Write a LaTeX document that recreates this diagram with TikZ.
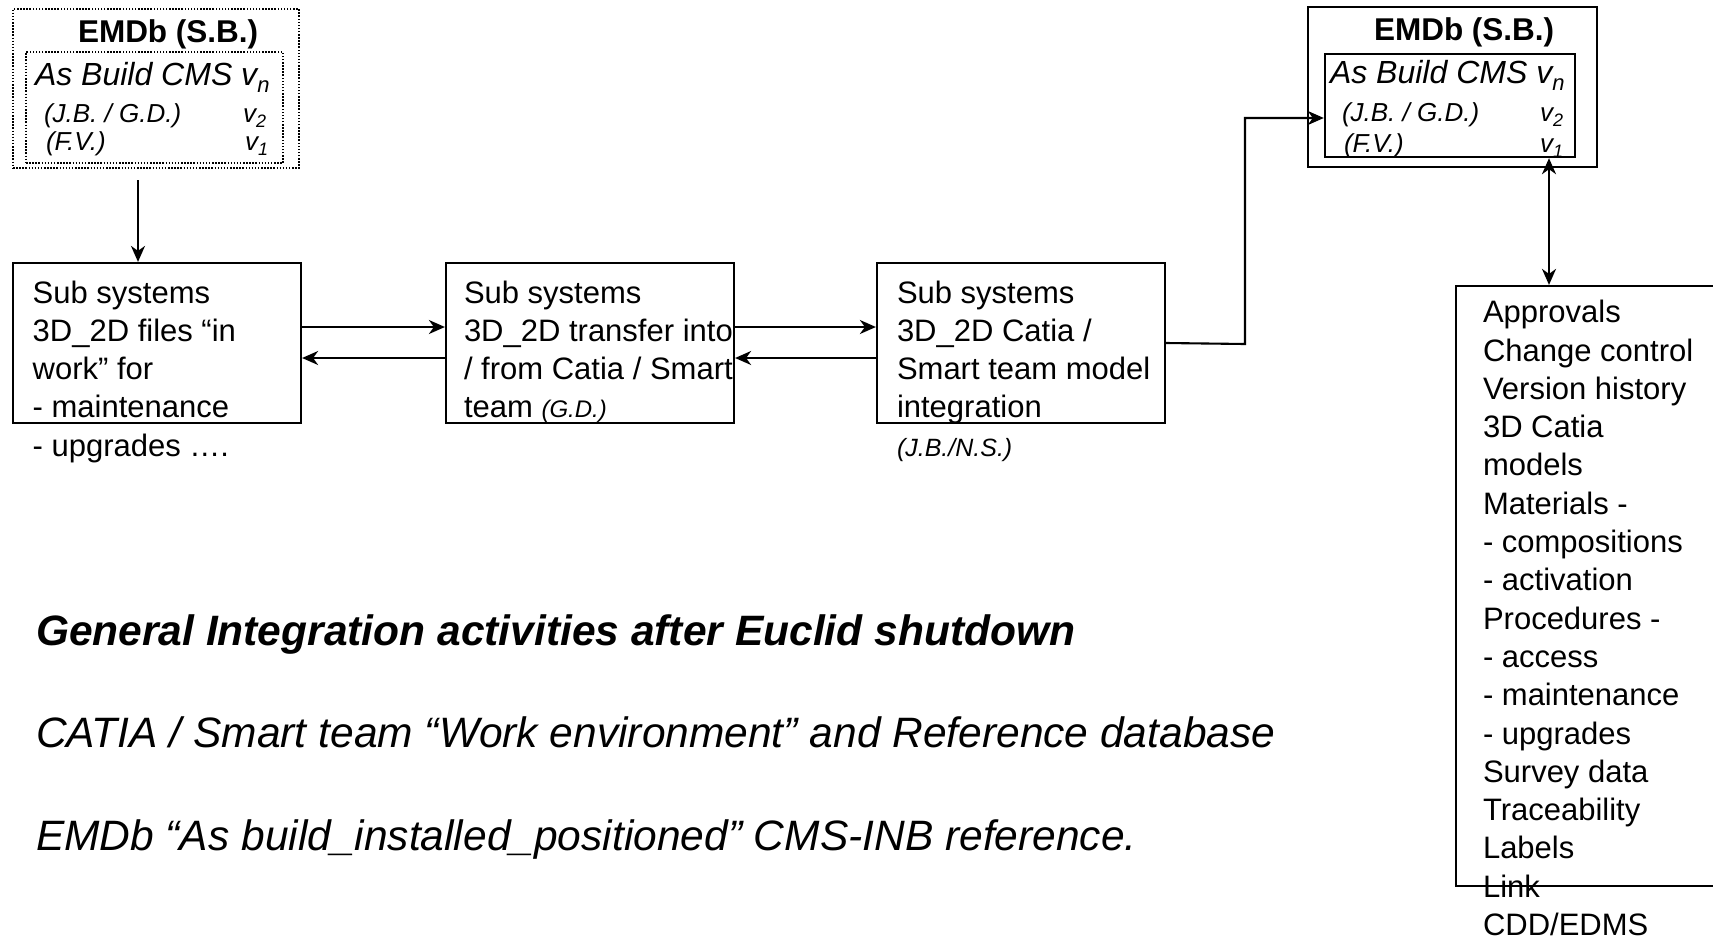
\documentclass[tikz,border=0pt]{standalone}
\usepackage{fontspec}
\setmainfont{Liberation Sans}
\usetikzlibrary{arrows.meta}
\newcommand{\vsb}[2]{v\raisebox{-0.22em}{\fontsize{#2}{#2}\selectfont #1}}
\begin{document}
\begin{tikzpicture}[x=1pt,y=-1pt,
  box/.style={draw, line width=2.2pt, minimum width=288pt, minimum height=160pt, inner sep=0pt},
  solidbox/.style={draw, line width=2.4pt, inner sep=0pt},
  dotbox/.style={draw, line width=2pt, dash pattern=on 1.5pt off 1.6pt, inner sep=0pt},
  txt/.style={anchor=base west, inner sep=0pt, outer sep=0pt},
  main/.style={font=\fontsize{31}{38.3}\selectfont},
  arr/.style={line width=2.1pt, -{Stealth[length=16pt,width=14pt,inset=5pt]}},
  arrb/.style={line width=2.1pt, {Stealth[length=16pt,width=14pt,inset=5pt]}-{Stealth[length=16pt,width=14pt,inset=5pt]}}]
\useasboundingbox (0,0) rectangle (1713,940);
\fill[white] (0,0) rectangle (1713,940);
\clip (0,0) rectangle (1713,940);

% top-left EMDb box (dotted)
\node[dotbox, minimum width=286pt, minimum height=159pt] (tl) at (156,88.5) {};
\node[dotbox, minimum width=257pt, minimum height=111pt] (tli) at (154.5,107.5) {};
\node[txt, font=\fontsize{31.5}{36}\selectfont\bfseries] (tlh) at (78,42) {EMDb (S.B.)};
\node[txt, font=\fontsize{32}{36}\selectfont\itshape] (tla) at (35,85) {As Build CMS \vsb{n}{22}};
\node[txt, font=\fontsize{26}{30}\selectfont\itshape] (tlb) at (44,122) {(J.B. / G.D.)};
\node[txt, font=\fontsize{26}{30}\selectfont\itshape] (tlb2) at (243,122) {\vsb{2}{18}};
\node[txt, font=\fontsize{26}{30}\selectfont\itshape] (tlc) at (46,150) {(F.V.)};
\node[txt, font=\fontsize{26}{30}\selectfont\itshape] (tlc1) at (245,150) {\vsb{1}{18}};

% top-right EMDb box (solid)
\node[solidbox, minimum width=289pt, minimum height=160pt] (tr) at (1452.5,87) {};
\node[solidbox, minimum width=250pt, minimum height=103pt] (tri) at (1450,105.5) {};
\node[txt, font=\fontsize{31.5}{36}\selectfont\bfseries] (trh) at (1374,40) {EMDb (S.B.)};
\node[txt, font=\fontsize{32}{36}\selectfont\itshape] (tra) at (1330,83) {As Build CMS \vsb{n}{22}};
\node[txt, font=\fontsize{26}{30}\selectfont\itshape] (trb) at (1342,121) {(J.B. / G.D.)};
\node[txt, font=\fontsize{26}{30}\selectfont\itshape] (trb2) at (1540,121) {\vsb{2}{18}};
\node[txt, font=\fontsize{26}{30}\selectfont\itshape] (trc) at (1344,152) {(F.V.)};
\node[txt, font=\fontsize{26}{30}\selectfont\itshape] (trc1) at (1540,152) {\vsb{1}{18}};

% three sub-system boxes
\node[box] (b1) at (157,343) {};
\node[box] (b2) at (590,343) {};
\node[box] (b3) at (1021,343) {};

\node[txt, main] (b1t) at (32.7,303) {\begin{tabular}[t]{@{}l@{}}Sub systems\\3D\_2D files “in\\work” for\\- maintenance\\- upgrades ….\end{tabular}};
\node[txt, main] (b2t) at (464,303) {\begin{tabular}[t]{@{}l@{}}Sub systems\\3D\_2D transfer into\\/ from Catia / Smart\\team {\itshape\fontsize{24}{28}\selectfont (G.D.)}\end{tabular}};
\node[txt, main] (b3t) at (897,303) {\begin{tabular}[t]{@{}l@{}}Sub systems\\3D\_2D Catia /\\Smart team model\\integration\\{\itshape\fontsize{25}{28}\selectfont (J.B./N.S.)}\end{tabular}};

% approvals box
\node[draw, line width=2.2pt, minimum width=304pt, minimum height=600pt, inner sep=0pt] (ap) at (1608,586) {};
\node[txt, main] (apt) at (1483,322.7) {\begin{tabular}[t]{@{}l@{}}Approvals\\Change control\\Version history\\3D Catia\\models\\Materials -\\- compositions\\- activation\\Procedures -\\- access\\- maintenance\\- upgrades\\Survey data\\Traceability\\Labels\\Link\\CDD/EDMS\end{tabular}};

% bottom texts
\node[txt, font=\fontsize{42.5}{50}\selectfont\bfseries\itshape] (g1) at (36,645) {General Integration activities after Euclid shutdown};
\node[txt, font=\fontsize{42.5}{50}\selectfont\itshape] (g2) at (36,747) {CATIA / Smart team “Work environment” and Reference database};
\node[txt, font=\fontsize{42.5}{50}\selectfont\itshape] (g3) at (36,850) {EMDb “As build\_installed\_positioned” CMS-INB reference.};

% connectors
\draw[arr] ([xshift=-18pt,yshift=-11pt]tl.south) -- ([xshift=-19pt]b1.north);
\draw[arr] ([yshift=16pt]b1.east) -- ([yshift=16pt]b2.west);
\draw[arr] ([yshift=-15pt]b2.west) -- ([yshift=-15pt]b1.east);
\draw[arr] ([yshift=16pt]b2.east) -- ([yshift=16pt]b3.west);
\draw[arr] ([yshift=-15pt]b3.west) -- ([yshift=-15pt]b2.east);
\coordinate (k1) at (1245,344);
\draw[arr] (b3.east) -- (k1) |- ([yshift=-12.5pt]tri.west);
\draw[arrb] ([xshift=99pt]tri.south) -- ([xshift=-59pt]ap.north);
\end{tikzpicture}
\end{document}
